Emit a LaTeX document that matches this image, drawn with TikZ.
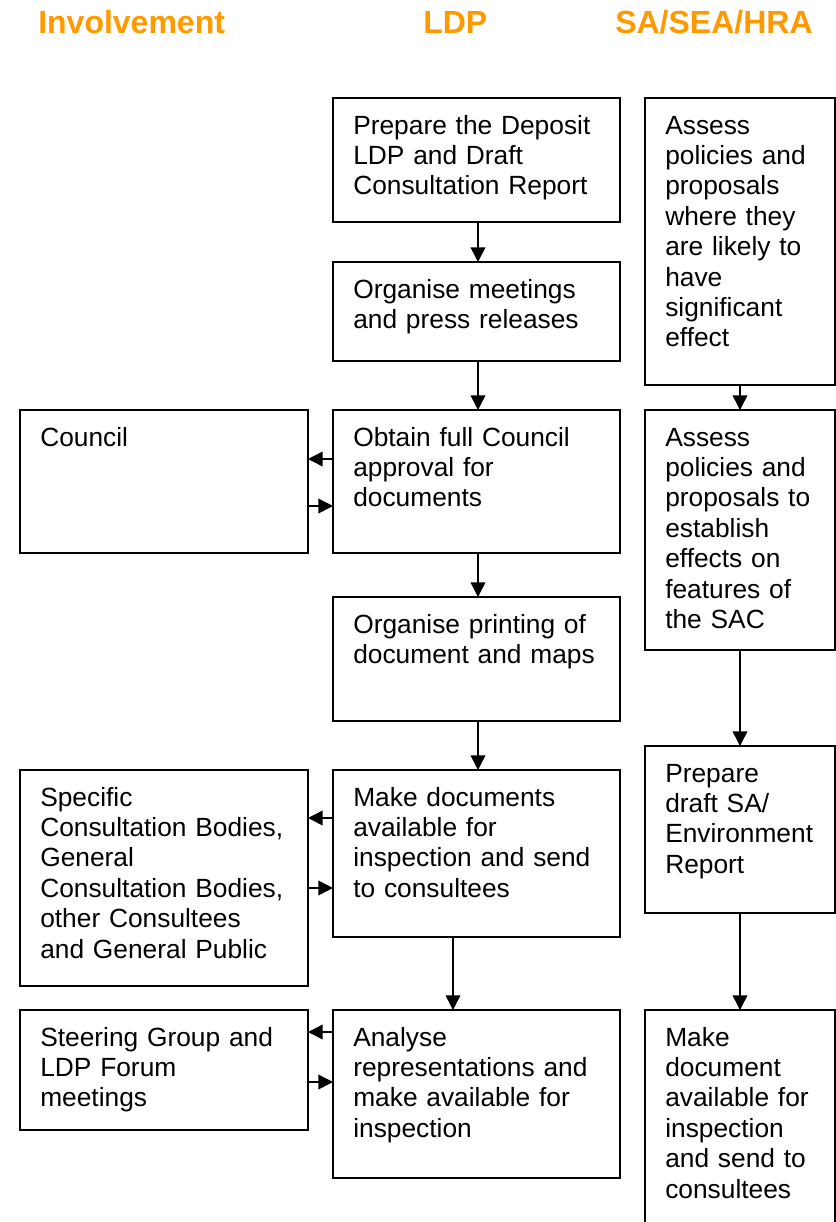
\documentclass[tikz,border=0pt]{standalone}
\usepackage{fontspec}
\setmainfont{Liberation Sans}
\usetikzlibrary{arrows.meta}
\definecolor{headorange}{HTML}{FF9900}

% box from (x1,y1) to (x2,y2), units are the picture's pixels, y running down
\newcommand\flowbox[5]{%
  \node[box, minimum width={(#4-#2)*0.75pt}, minimum height={(#5-#3)*0.75pt}]
    (#1) at ({(#2+#4)/2},{(#3+#5)/2}) {};}
% text set inside a box, from its top left corner
\newcommand\boxtext[3]{%
  \node[txt, text width=#2*0.75pt] (#1-t) at ([shift={(20,36)}]#1.north west) {#3};}

\begin{document}
\begin{tikzpicture}[x=0.75pt, y=-0.75pt,
  box/.style={draw, line width=1.5pt, inner sep=0pt, outer sep=0pt},
  txt/.style={anchor=base west, inner sep=0pt, align=left,
    font=\fontsize{19.75pt}{22.8pt}\selectfont},
  head/.style={anchor=base west, inner sep=0pt, text=headorange,
    font=\fontsize{24pt}{28pt}\selectfont\bfseries},
  arr/.style={line width=1.1pt, -{Triangle[length=11pt, width=11pt]}}]

\useasboundingbox (0,0) rectangle (836,1222);

% column headings
\node[head] (h1) at (38,33) {Involvement};
\node[head] (h2) at (423,33) {LDP};
\node[head] (h3) at (615,33) {SA/SEA/HRA};

% LDP column
\flowbox{l1}{333}{98}{620}{222}
\flowbox{l2}{333}{262}{620}{361}
\flowbox{l3}{333}{410}{620}{553}
\flowbox{l4}{333}{597}{620}{721}
\flowbox{l5}{333}{770}{620}{937}
\flowbox{l6}{333}{1010}{620}{1178}
\boxtext{l1}{270}{Prepare the Deposit\\LDP and Draft\\Consultation Report}
\boxtext{l2}{270}{Organise meetings\\and press releases}
\boxtext{l3}{270}{Obtain full Council\\approval for\\documents}
\boxtext{l4}{270}{Organise printing of\\document and maps}
\boxtext{l5}{270}{Make documents\\available for\\inspection and send\\to consultees}
\boxtext{l6}{270}{Analyse\\representations and\\make available for\\inspection}

% involvement column
\flowbox{i1}{20}{410}{308}{553}
\flowbox{i2}{20}{770}{308}{986}
\flowbox{i3}{20}{1010}{308}{1130}
\boxtext{i1}{270}{Council}
\boxtext{i2}{270}{Specific\\Consultation Bodies,\\General\\Consultation Bodies,\\other Consultees\\and General Public}
\boxtext{i3}{270}{Steering Group and\\LDP Forum\\meetings}

% appraisal column
\flowbox{s1}{645}{98}{835}{385}
\flowbox{s2}{645}{410}{835}{650}
\flowbox{s3}{645}{746}{835}{913}
\flowbox{s4}{645}{1010}{835}{1232}
\boxtext{s1}{175}{Assess\\policies and\\proposals\\where they\\are likely to\\have\\significant\\effect}
\boxtext{s2}{175}{Assess\\policies and\\proposals to\\establish\\effects on\\features of\\the SAC}
\boxtext{s3}{175}{Prepare\\draft SA/\\Environment\\Report}
\boxtext{s4}{175}{Make\\document\\available for\\inspection\\and send to\\consultees}

% LDP sequence
\draw[arr] (478,0 |- l1.south) -- (478,0 |- l2.north);
\draw[arr] (478,0 |- l2.south) -- (478,0 |- l3.north);
\draw[arr] (478,0 |- l3.south) -- (478,0 |- l4.north);
\draw[arr] (478,0 |- l4.south) -- (478,0 |- l5.north);
\draw[arr] (453,0 |- l5.south) -- (453,0 |- l6.north);

% exchanges with the involvement column
\draw[arr] (l3.west |- 0,459) -- (i1.east |- 0,459);
\draw[arr] (i1.east |- 0,506) -- (l3.west |- 0,506);
\draw[arr] (l5.west |- 0,818) -- (i2.east |- 0,818);
\draw[arr] (i2.east |- 0,888) -- (l5.west |- 0,888);
\draw[arr] (l6.west |- 0,1032) -- (i3.east |- 0,1032);
\draw[arr] (i3.east |- 0,1082) -- (l6.west |- 0,1082);

% appraisal sequence
\draw[arr] (s1.south) -- (s2.north);
\draw[arr] (s2.south) -- (s3.north);
\draw[arr] (s3.south) -- (s4.north);
\end{tikzpicture}
\end{document}
